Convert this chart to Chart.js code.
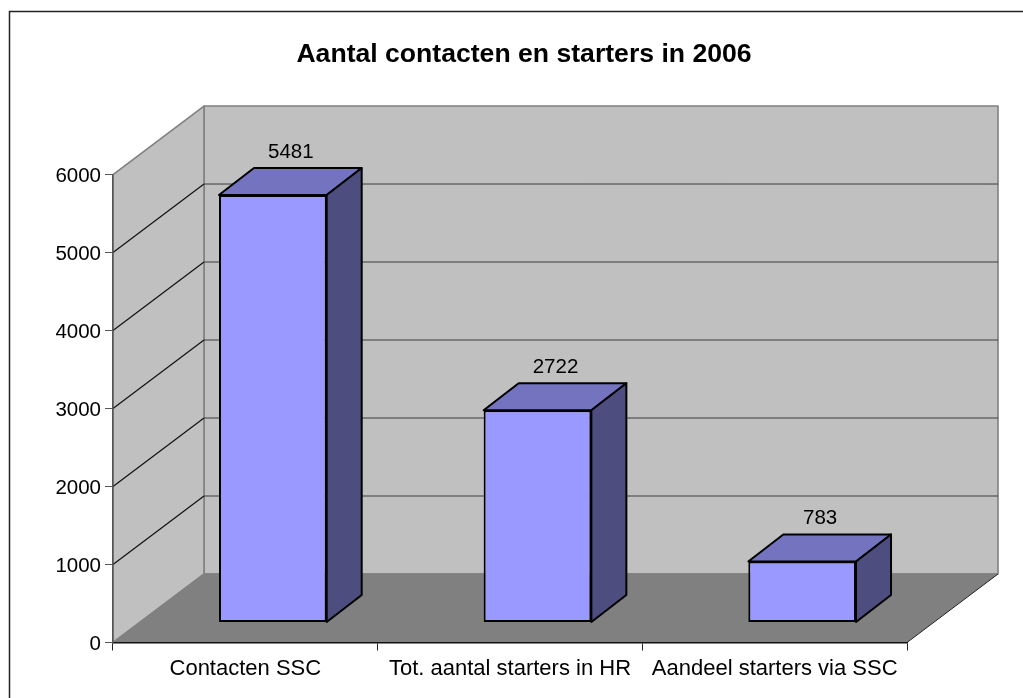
<!DOCTYPE html>
<html><head><meta charset="utf-8">
<style>html,body{margin:0;padding:0;background:#fff;overflow:hidden}canvas{display:block}</style>
<script src="https://cdn.jsdelivr.net/npm/chart.js@4/dist/chart.umd.min.js"></script>
</head><body>
<canvas id="c" width="1023" height="698" style="width:1023px;height:698px"></canvas>
<script>
const titleText = 'Aantal contacten en starters in 2006';
const categories = ['Contacten SSC', 'Tot. aantal starters in HR', 'Aandeel starters via SSC'];
const values = [5481, 2722, 783];
const yMin = 0, yMax = 6000, yStep = 1000;

const FONT = '"Liberation Sans", Arial, sans-serif';
const WALL_DEPTH = {x: 91, y: -68.5};
const BAR_SHIFT = {x: 27.5, y: -20};
const BAR_DEPTH = {x: 35, y: -27};

function poly(ctx, pts, fill, stroke, lw) {
  ctx.beginPath();
  pts.forEach((p, i) => i ? ctx.lineTo(p[0], p[1]) : ctx.moveTo(p[0], p[1]));
  ctx.closePath();
  if (fill) { ctx.fillStyle = fill; ctx.fill(); }
  if (stroke) { ctx.strokeStyle = stroke; ctx.lineWidth = lw; ctx.lineJoin = 'round'; ctx.stroke(); }
}

const scene3d = {
  id: 'scene3d',
  afterLayout(chart) { chart.titleBlock.left += 70.5; chart.titleBlock.right += 70.5; },
  beforeDraw(chart) {
    const {ctx, chartArea: a, scales: {y}} = chart;
    const d = WALL_DEPTH;
    ctx.save();
    // frame
    ctx.strokeStyle = '#222'; ctx.lineWidth = 1.5;
    ctx.beginPath(); ctx.moveTo(9.5, 698); ctx.lineTo(9.5, 11.5); ctx.lineTo(1023, 11.5); ctx.stroke();
    // walls and floor
    poly(ctx, [[a.left + d.x, a.top + d.y], [a.right + d.x, a.top + d.y], [a.right + d.x, a.bottom + d.y], [a.left + d.x, a.bottom + d.y]], '#C0C0C0', '#808080', 1.6);
    poly(ctx, [[a.left, a.top], [a.left + d.x, a.top + d.y], [a.left + d.x, a.bottom + d.y], [a.left, a.bottom]], '#C0C0C0', '#808080', 1.6);
    // gridlines
    y.ticks.forEach(t => {
      if (t.value === yMin || t.value === yMax) return;
      const py = y.getPixelForValue(t.value);
      ctx.strokeStyle = '#111'; ctx.lineWidth = 1.2;
      ctx.beginPath(); ctx.moveTo(a.left, py); ctx.lineTo(a.left + d.x, py + d.y); ctx.stroke();
      ctx.strokeStyle = '#3c3c3c'; ctx.lineWidth = 1;
      ctx.beginPath(); ctx.moveTo(a.left + d.x, py + d.y); ctx.lineTo(a.right + d.x, py + d.y); ctx.stroke();
    });
    poly(ctx, [[a.left, a.bottom], [a.right, a.bottom], [a.right + d.x, a.bottom + d.y], [a.left + d.x, a.bottom + d.y]], '#808080', null);
    ctx.strokeStyle = '#808080'; ctx.lineWidth = 1.6;
    ctx.beginPath(); ctx.moveTo(a.left + d.x, a.bottom + d.y); ctx.lineTo(a.right + d.x, a.bottom + d.y); ctx.stroke();
    ctx.strokeStyle = '#222'; ctx.lineWidth = 1;
    ctx.beginPath(); ctx.moveTo(a.right, a.bottom); ctx.lineTo(a.right + d.x, a.bottom + d.y); ctx.stroke();
    ctx.restore();
  },
  beforeDatasetDraw(chart, args) {
    const ctx = chart.ctx;
    ctx.save();
    ctx.translate(BAR_SHIFT.x, BAR_SHIFT.y);
    const k = BAR_DEPTH;
    args.meta.data.forEach(bar => {
      const l = bar.x - bar.width / 2, r = bar.x + bar.width / 2, t = bar.y, b = bar.base;
      poly(ctx, [[l, t], [r, t], [r + k.x, t + k.y], [l + k.x, t + k.y]], '#7373BF', '#000', 2);
      poly(ctx, [[r, t], [r + k.x, t + k.y], [r + k.x, b + k.y], [r, b]], '#4D4D80', '#000', 2);
    });
  },
  afterDatasetDraw(chart) { chart.ctx.restore(); },
  afterDatasetsDraw(chart) {
    const ctx = chart.ctx;
    const meta = chart.getDatasetMeta(0);
    ctx.save();
    ctx.fillStyle = '#000';
    ctx.font = '20.5px ' + FONT;
    ctx.textAlign = 'center';
    ctx.textBaseline = 'middle';
    meta.data.forEach((bar, i) => {
      ctx.fillText(String(values[i]), bar.x + BAR_SHIFT.x + BAR_DEPTH.x / 2 + 0.5, bar.y + BAR_SHIFT.y + BAR_DEPTH.y - 16);
    });
    ctx.restore();
  }
};

new Chart(document.getElementById('c'), {
  type: 'bar',
  data: {
    labels: categories,
    datasets: [{
      data: values,
      backgroundColor: '#9999FF',
      borderColor: '#000',
      borderWidth: 2,
      borderSkipped: false,
      barPercentage: 1,
      categoryPercentage: 0.407,
      clip: false
    }]
  },
  plugins: [scene3d],
  options: {
    responsive: false,
    animation: false,
    layout: {autoPadding: false, padding: {left: 0, right: 116, top: 0, bottom: 0}},
    plugins: {
      legend: {display: false},
      tooltip: {enabled: false},
      title: {
        display: true, text: titleText, color: '#000',
        font: {family: FONT, size: 26.6, weight: 'bold', lineHeight: 1.2},
        padding: {top: 39, bottom: 103.6}
      }
    },
    scales: {
      x: {
        afterFit(s) { s.height = 55.5; },
        grid: {drawOnChartArea: false, color: '#222', tickLength: 8, offset: true},
        border: {color: '#111', width: 1.5},
        ticks: {color: '#000', font: {family: FONT, size: 22}, padding: 5, maxRotation: 0, minRotation: 0, autoSkip: false}
      },
      y: {
        min: yMin, max: yMax,
        afterFit(s) { s.width = 113; },
        grid: {drawOnChartArea: false, color: '#555', tickLength: 8},
        border: {color: '#555', width: 1.5},
        ticks: {stepSize: yStep, color: '#000', font: {family: FONT, size: 20.5}, padding: 4, labelOffset: 2, callback: v => String(v)}
      }
    }
  }
});
</script>
</body></html>
